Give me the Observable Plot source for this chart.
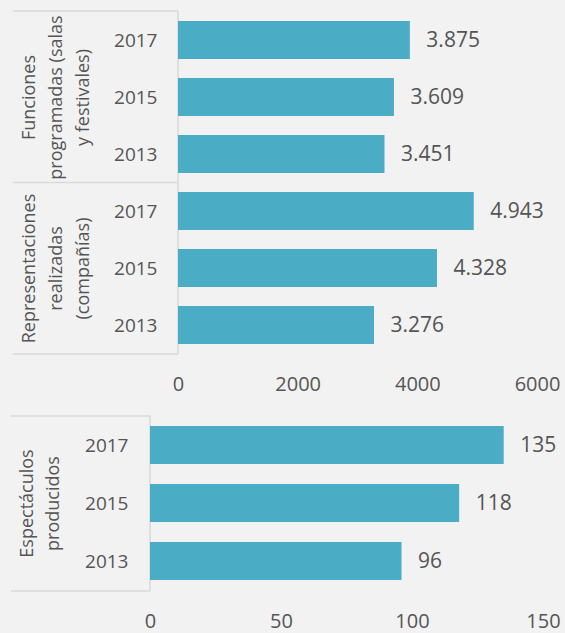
<!DOCTYPE html>
<html>
<head>
<meta charset="utf-8">
<script src="https://cdn.jsdelivr.net/npm/d3@7"></script>
<script src="https://cdn.jsdelivr.net/npm/@observablehq/plot@0.6"></script>
<style>
  html, body { margin: 0; padding: 0; background: #f2f2f2; }
  #chart { width: 565px; height: 633px; background: #f2f2f2; }
  #chart svg { display: block; }
</style>
</head>
<body>
<div id="chart"></div>
<script>
// ---- Data ----
const years = ["2017", "2015", "2013"];
const topGroups = ["Funciones programadas (salas y festivales)", "Representaciones realizadas (compañías)"];
const topGroupLines = ["Funciones\nprogramadas (salas\ny festivales)", "Representaciones\nrealizadas\n(compañías)"];
const funciones = [3875, 3609, 3451];
const representaciones = [4943, 4328, 3276];
const bottomGroups = ["Espectáculos producidos"];
const bottomGroupLines = ["Espectáculos\nproducidos"];
const espectaculos = [135, 118, 96];
const topTicks = [0, 2000, 4000, 6000];
const bottomTicks = [0, 50, 100, 150];

// ---- Helpers ----
const es = d3.formatLocale({decimal: ",", thousands: ".", grouping: [3], currency: ["", "€"]});
const fmt = es.format(",d");
const BAR = "#4bacc6";
const TEXT = "#555555";
const LINE = "#d9d9d9";
const FONT = "'Open Sans', 'Noto Sans', sans-serif";

function rowsFor(groups, seriesList) {
  const rows = [];
  groups.forEach((g, gi) => {
    years.forEach((yr, i) => rows.push({group: g, year: yr, value: seriesList[gi][i], key: g + "|" + yr}));
  });
  return rows;
}

function tableLines(keys, groupCount, leftEdge) {
  return (index, scales, values, dimensions) => {
    const y = scales.y;
    const bw = y.bandwidth ? y.bandwidth() : 0;
    const t = dimensions.marginTop;
    const b = dimensions.height - dimensions.marginBottom;
    const xr = dimensions.marginLeft;
    const g = d3.create("svg:g").attr("stroke", LINE).attr("stroke-width", 1.5).attr("fill", "none");
    const hs = [t, b];
    for (let k = 1; k < groupCount; k++) {
      const a = keys[k * 3 - 1], c = keys[k * 3];
      hs.push((y(a) + bw + y(c)) / 2);
    }
    hs.forEach(h => g.append("line").attr("x1", leftEdge).attr("x2", xr).attr("y1", h).attr("y2", h));
    g.append("line").attr("x1", xr).attr("x2", xr).attr("y1", t).attr("y2", b);
    return g.node();
  };
}

function panel({groups, groupLines, series, ticks, height, marginTop, marginBottom, marginLeft, marginRight, paddingInner, paddingOuter, groupDx, groupLH, yearDx, leftEdge}) {
  const rows = rowsFor(groups, series);
  const keys = rows.map(d => d.key);
  const labels = groups.map((g, i) => ({key: g + "|" + years[1], text: groupLines[i]}));
  return Plot.plot({
    width: 565,
    height,
    marginTop, marginBottom, marginLeft, marginRight,
    style: {background: "#f2f2f2", fontFamily: FONT, color: TEXT},
    x: {domain: [ticks[0], ticks[ticks.length - 1]], axis: null, label: null},
    y: {domain: keys, axis: null, paddingInner, paddingOuter},
    marks: [
      tableLines(keys, groups.length, leftEdge),
      Plot.barX(rows, {x: "value", y: "key", fill: BAR}),
      Plot.text(rows, {x: "value", y: "key", text: d => fmt(d.value), textAnchor: "start", dx: 16, fill: TEXT, fontSize: 21}),
      Plot.text(rows, {x: () => ticks[0], y: "key", text: "year", textAnchor: "end", dx: yearDx, fill: TEXT, fontSize: 19}),
      Plot.text(labels, {x: () => ticks[0], y: "key", text: "text", rotate: -90, dx: groupDx, lineHeight: groupLH, lineAnchor: "middle", textAnchor: "middle", fill: TEXT, fontSize: 18}),
      Plot.axisX({ticks, tickSize: 0, tickPadding: 22, tickFormat: d => String(d), label: null, fontSize: 20, color: TEXT, fill: TEXT})
    ]
  });
}

const topChart = panel({
  groups: topGroups, groupLines: topGroupLines, series: [funciones, representaciones], ticks: topTicks,
  height: 400, marginTop: 11, marginBottom: 46, marginLeft: 178, marginRight: 28,
  paddingInner: 0.33, paddingOuter: 0.165, groupDx: -125, groupLH: 1.5, yearDx: -21, leftEdge: 13
});
const bottomChart = panel({
  groups: bottomGroups, groupLines: bottomGroupLines, series: [espectaculos], ticks: bottomTicks,
  height: 233, marginTop: 16, marginBottom: 42, marginLeft: 150, marginRight: 22,
  paddingInner: 0.34, paddingOuter: 0.16, groupDx: -113, groupLH: 1.45, yearDx: -22, leftEdge: 11
});
const root = document.getElementById("chart");
root.appendChild(topChart);
root.appendChild(bottomChart);
</script>
</body>
</html>
